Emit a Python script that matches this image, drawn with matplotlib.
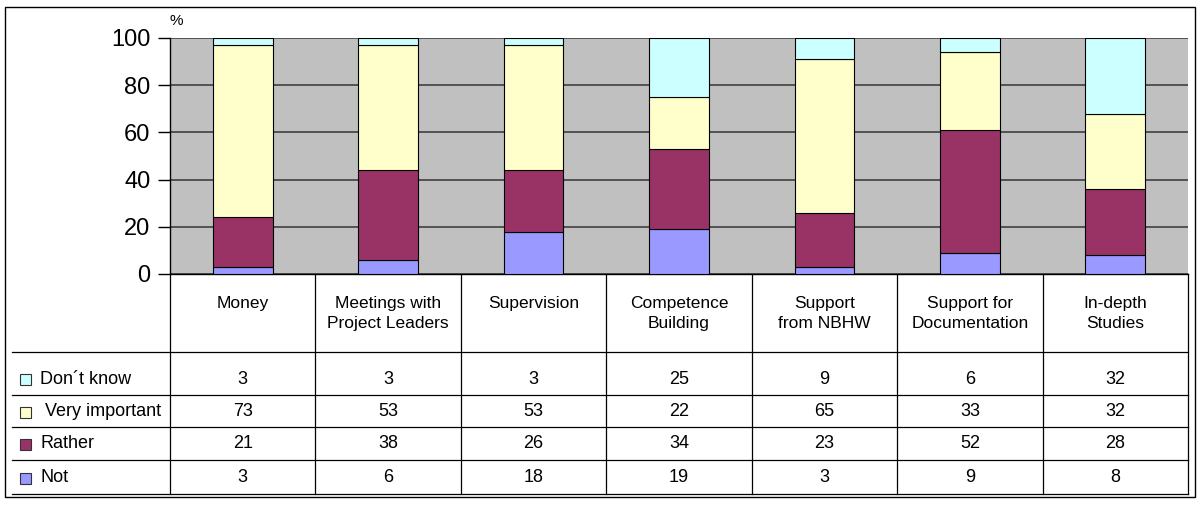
import matplotlib.pyplot as plt
import matplotlib.transforms as mtransforms
from matplotlib.patches import Rectangle
import numpy as np

plt.rcParams["font.family"] = ["Liberation Sans", "DejaVu Sans"]

# data
categories = ["Money", "Meetings with\nProject Leaders", "Supervision",
              "Competence\nBuilding", "Support\nfrom NBHW",
              "Support for\nDocumentation", "In-depth\nStudies"]
series_names = ["Don\u00b4t know", "Very important", "Rather", "Not"]
dont_know = [3, 3, 3, 25, 9, 6, 32]
very_important = [73, 53, 53, 22, 65, 33, 32]
rather = [21, 38, 26, 34, 23, 52, 28]
not_important = [3, 6, 18, 19, 3, 9, 8]
colors = ["#CCFFFF", "#FFFFCC", "#993366", "#9999FF"]

W, H = 1200, 507
fig = plt.figure(figsize=(12, 5.07), dpi=100)


def box(x0, y0, x1, y1):
    # pixel box (top-left origin) -> figure fraction
    return [x0 / W, 1 - y1 / H, (x1 - x0) / W, (y1 - y0) / H]


# pixel overlay for the table and border
ax_t = fig.add_axes([0, 0, 1, 1])
ax_t.set_xlim(0, W)
ax_t.set_ylim(H, 0)
ax_t.axis("off")

# 1- bar chart
ax = fig.add_axes(box(170, 38, 1188, 274))
ax.set_facecolor("#C0C0C0")
x = np.arange(len(categories))
stack = [not_important, rather, very_important, dont_know]
stack_colors = colors[::-1]
bottom = np.zeros(len(categories))
for vals, c in zip(stack, stack_colors):
    ax.bar(x, vals, width=0.41, bottom=bottom, color=c, edgecolor="black",
           linewidth=0.8, zorder=3)
    bottom += np.array(vals)

ax.set_xlim(-0.5, len(categories) - 0.5)
ax.set_ylim(0, 100)
ax.set_yticks([0, 20, 40, 60, 80, 100])
ax.tick_params(axis="y", labelsize=17, length=9, width=1, pad=5)
ax.set_xticks([])
ax.yaxis.grid(True, color="#404040", linewidth=1.2, zorder=0)
ax.set_axisbelow(True)
for s in ["top", "right"]:
    ax.spines[s].set_visible(False)
ax.spines["left"].set_linewidth(1)
ax.spines["bottom"].set_linewidth(1)
ax_t.text(176, 21, "%", fontsize=11, ha="center", va="center")

# 2- data table
tr = mtransforms.blended_transform_factory(ax.transData, ax_t.transData)
row_lines = [352, 395, 427, 460, 494]
row_centers = [379, 412, 444, 478]

for i, lab in enumerate(categories):
    ax_t.text(x[i], 296, lab, transform=tr, ha="center", va="top",
              fontsize=12.5, linespacing=1.4)

for edge in np.arange(len(categories) + 1) - 0.5:
    ax_t.plot([edge, edge], [274, 494], transform=tr, color="black", lw=0.9)
for y in row_lines:
    ax_t.plot([12, 1188], [y, y], color="black", lw=0.9)

table = [dont_know, very_important, rather, not_important]
for r, (name, vals, c) in enumerate(zip(series_names, table, colors)):
    yc = row_centers[r]
    ax_t.add_patch(Rectangle((20, yc - 5.5), 11, 11, facecolor=c,
                             edgecolor="#333333", lw=0.8))
    ax_t.text(40 if r != 1 else 45, yc, name, ha="left", va="center",
              fontsize=13)
    for i, v in enumerate(vals):
        ax_t.text(x[i], yc, str(v), transform=tr, ha="center", va="center",
                  fontsize=13)

# outer border
ax_t.add_patch(Rectangle((5, 7), 1190, 490, facecolor="none",
                         edgecolor="black", lw=1))

plt.savefig("out.png", dpi=100)
